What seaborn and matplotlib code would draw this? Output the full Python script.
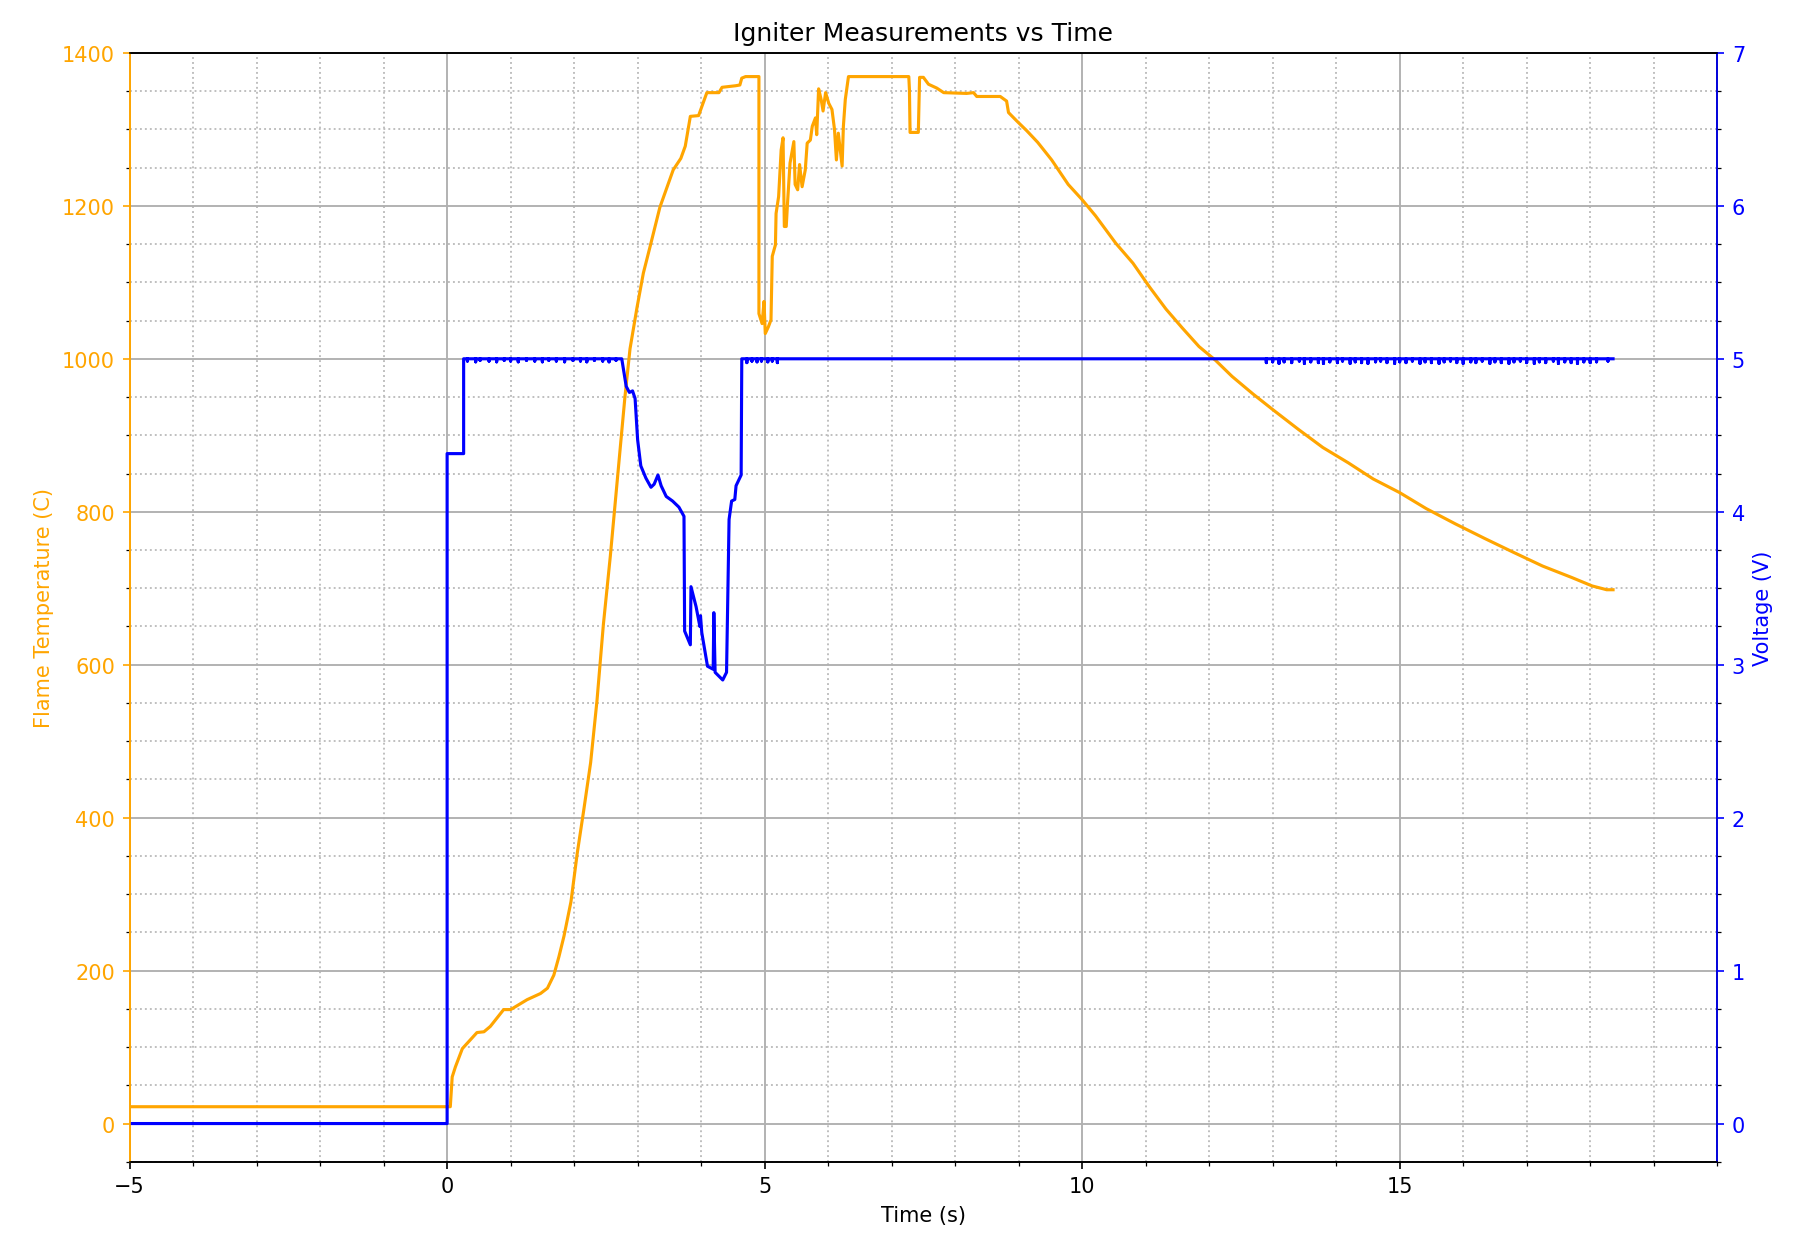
import matplotlib
matplotlib.use("Agg")
import seaborn as sns
from matplotlib import pyplot as plt
from matplotlib.ticker import MultipleLocator

# flame temperature (C)
temp_time = [-5.0, 0.05, 0.06, 0.08, 0.13, 0.24, 0.47, 0.58, 0.68, 0.89, 1.0, 1.26, 1.47, 1.58,
             1.68, 1.76, 1.84, 1.95, 2.05, 2.15, 2.26, 2.36, 2.46, 2.57, 2.65, 2.73, 2.80, 2.88,
             2.99, 3.09, 3.20, 3.35, 3.56, 3.68, 3.75, 3.83, 3.96, 4.09, 4.28, 4.33, 4.54, 4.61,
             4.64, 4.70, 4.91, 4.91, 4.96, 4.99, 5.01, 5.06, 5.10, 5.12, 5.17, 5.18, 5.22, 5.26,
             5.29, 5.31, 5.34, 5.36, 5.40, 5.46, 5.48, 5.52, 5.55, 5.59, 5.64, 5.67, 5.72, 5.75,
             5.80, 5.82, 5.85, 5.89, 5.92, 5.96, 6.01, 6.06, 6.10, 6.13, 6.16, 6.22, 6.24, 6.27,
             6.32, 7.27, 7.28, 7.29, 7.42, 7.44, 7.50, 7.58, 7.71, 7.82, 8.18, 8.29, 8.34, 8.71,
             8.81, 8.84, 8.97, 9.13, 9.30, 9.52, 9.78, 10.0, 10.21, 10.53, 10.80, 11.06, 11.32,
             11.58, 11.84, 12.10, 12.36, 12.69, 13.01, 13.40, 13.79, 14.19, 14.58, 15.0, 15.42,
             15.88, 16.34, 16.79, 17.25, 17.71, 18.03, 18.26, 18.36]
temp_vals = [22, 22, 35, 61, 74, 98, 119, 120, 127, 149, 149, 162, 170, 177,
             194, 218, 245, 290, 354, 409, 472, 553, 652, 742, 815, 887, 950, 1013,
             1067, 1112, 1148, 1198, 1247, 1262, 1278, 1317, 1318, 1348, 1348, 1355, 1357, 1358,
             1367, 1369, 1369, 1059, 1046, 1075, 1033, 1042, 1051, 1134, 1149, 1190, 1212, 1273,
             1289, 1173, 1173, 1203, 1256, 1284, 1228, 1221, 1254, 1225, 1247, 1282, 1286, 1304,
             1315, 1293, 1353, 1339, 1324, 1348, 1334, 1326, 1300, 1260, 1295, 1252, 1304, 1339,
             1369, 1369, 1352, 1296, 1296, 1368, 1368, 1359, 1354, 1348, 1347, 1348, 1343, 1343,
             1337, 1322, 1311, 1298, 1283, 1260, 1228, 1208, 1187, 1151, 1125, 1094, 1065,
             1040, 1016, 998, 977, 954, 933, 908, 884, 864, 843, 825, 804,
             784, 765, 747, 729, 714, 703, 698, 698]

# igniter voltage (V): main shape
volt_start_time = [-5.0, 0.0, 0.0, 0.26, 0.26]
volt_start_vals = [0.0, 0.0, 4.38, 4.38, 5.0]
volt_dip_time = [2.75, 2.82, 2.87, 2.92, 2.96, 3.0, 3.05, 3.13, 3.21, 3.26, 3.32, 3.37, 3.45,
                 3.55, 3.65, 3.73, 3.74, 3.83, 3.84, 3.92, 3.98, 3.99, 4.01, 4.10, 4.19, 4.20,
                 4.22, 4.34, 4.40, 4.44, 4.48, 4.53, 4.55, 4.63, 4.64]
volt_dip_vals = [5.0, 4.82, 4.78, 4.79, 4.74, 4.47, 4.30, 4.22, 4.16, 4.18, 4.24, 4.17, 4.10,
                 4.07, 4.03, 3.97, 3.22, 3.13, 3.51, 3.38, 3.25, 3.32, 3.21, 2.99, 2.97, 3.34,
                 2.95, 2.90, 2.95, 3.95, 4.07, 4.08, 4.17, 4.24, 5.0]
volt_end_time = 18.36

# small ripples on the 5 V level
ripple_early_time = [0.32, 0.45, 0.52, 0.66, 0.78, 0.90, 1.00, 1.12, 1.25, 1.38, 1.50, 1.60,
                     1.72, 1.85, 1.98, 2.10, 2.20, 2.32, 2.45, 2.55, 2.66]
ripple_early_vals = [4.985, 4.98, 4.99, 4.985, 4.98, 4.99, 4.985, 4.98, 4.99, 4.985, 4.98,
                     4.99, 4.985, 4.98, 4.99, 4.985, 4.98, 4.99, 4.985, 4.98, 4.99]
ripple_mid_time = [4.72, 4.80, 4.88, 4.95, 5.05, 5.12, 5.20]
ripple_mid_vals = [4.975, 4.985, 4.98, 4.985, 4.98, 4.985, 4.975]
ripple_late_time = [12.90, 13.00, 13.10, 13.18, 13.30, 13.42, 13.50, 13.60, 13.72, 13.80, 13.90,
                    14.02, 14.10, 14.22, 14.30, 14.40, 14.50, 14.62, 14.70, 14.80, 14.92, 15.00,
                    15.10, 15.20, 15.32, 15.40, 15.50, 15.62, 15.70, 15.80, 15.90, 16.00, 16.12,
                    16.20, 16.30, 16.42, 16.50, 16.60, 16.72, 16.80, 16.90, 17.00, 17.12, 17.20,
                    17.30, 17.42, 17.50, 17.60, 17.70, 17.80, 17.90, 18.00, 18.10, 18.28]
ripple_late_vals = [4.975, 4.98, 4.97, 4.98, 4.975, 4.985, 4.97, 4.98, 4.975, 4.97, 4.98,
                    4.975, 4.985, 4.97, 4.98, 4.975, 4.97, 4.98, 4.985, 4.975, 4.97, 4.98,
                    4.975, 4.985, 4.97, 4.98, 4.975, 4.97, 4.98, 4.985, 4.975, 4.97, 4.98,
                    4.975, 4.985, 4.97, 4.98, 4.975, 4.97, 4.98, 4.985, 4.975, 4.97, 4.98,
                    4.975, 4.985, 4.97, 4.98, 4.975, 4.97, 4.98, 4.975, 4.98, 4.985]


def add_ripples(ts, vs, times, vals):
    for t, v in zip(times, vals):
        ts += [t, t, t]
        vs += [5.0, v, 5.0]


volt_time = list(volt_start_time)
volt_vals = list(volt_start_vals)
add_ripples(volt_time, volt_vals, ripple_early_time, ripple_early_vals)
volt_time += volt_dip_time
volt_vals += volt_dip_vals
add_ripples(volt_time, volt_vals, ripple_mid_time, ripple_mid_vals)
add_ripples(volt_time, volt_vals, ripple_late_time, ripple_late_vals)
volt_time.append(volt_end_time)
volt_vals.append(5.0)

fig, ax1 = plt.subplots(figsize=(12, 8.3533), dpi=150)
plt.subplots_adjust(left=0.072, right=0.954, top=0.957, bottom=0.072)

sns.lineplot(x=temp_time, y=temp_vals, ax=ax1, color="orange", linewidth=1.5,
             sort=False, estimator=None)
ax1.set_xlabel("Time (s)")
ax1.set_ylabel("Flame Temperature (C)", color="orange")
ax1.tick_params(axis="y", colors="orange")
ax1.set_xlim(-5, 20)
ax1.set_ylim(-50, 1400)
ax1.set_xticks([-5, 0, 5, 10, 15])
ax1.xaxis.set_minor_locator(MultipleLocator(1))
ax1.yaxis.set_minor_locator(MultipleLocator(50))
ax1.grid(which="major", color="#b0b0b0", linewidth=0.9)
ax1.grid(which="minor", color="#bcbcbc", linestyle=":", linewidth=0.9)
ax1.spines["left"].set_color("orange")

ax2 = ax1.twinx()
sns.lineplot(x=volt_time, y=volt_vals, ax=ax2, color="blue", linewidth=1.5,
             sort=False, estimator=None)
ax2.set_ylabel("Voltage (V)", color="blue")
ax2.tick_params(axis="y", colors="blue")
ax2.set_ylim(-0.25, 7)
ax2.set_yticks(range(0, 8))
ax2.yaxis.set_minor_locator(MultipleLocator(0.25))
ax2.spines["right"].set_color("blue")
ax2.spines["left"].set_color("orange")

plt.title("Igniter Measurements vs Time")
plt.savefig("out.png", dpi=150)
